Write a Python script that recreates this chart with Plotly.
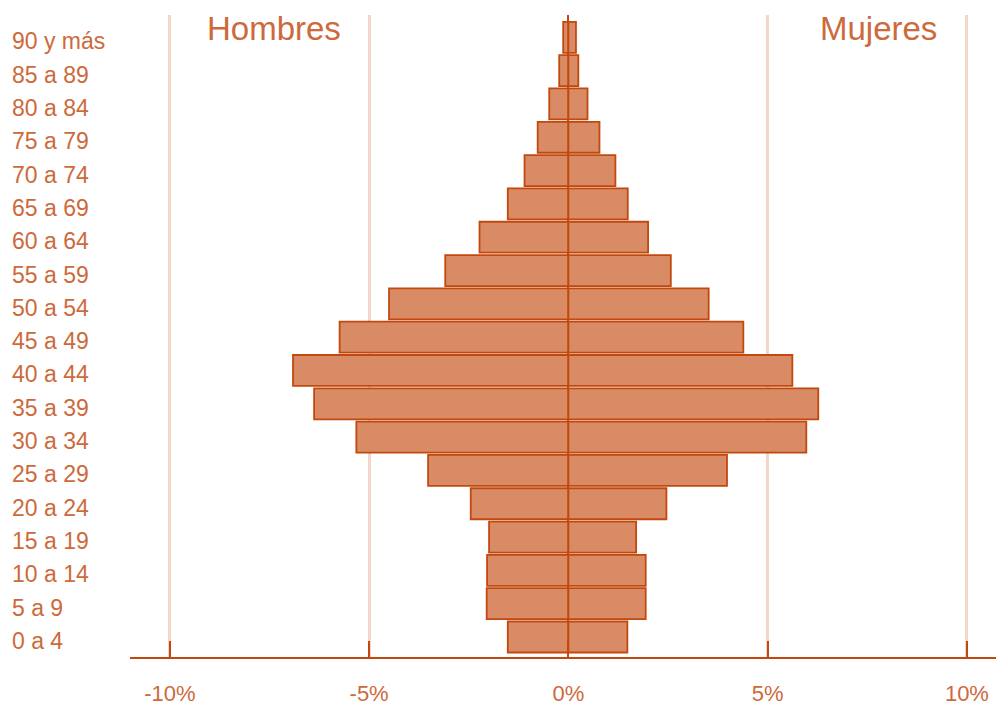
import plotly.graph_objects as go

age_groups = ["0 a 4", "5 a 9", "10 a 14", "15 a 19", "20 a 24", "25 a 29", "30 a 34",
              "35 a 39", "40 a 44", "45 a 49", "50 a 54", "55 a 59", "60 a 64", "65 a 69",
              "70 a 74", "75 a 79", "80 a 84", "85 a 89", "90 y más"]
hombres = [-1.52, -2.05, -2.04, -1.99, -2.45, -3.52, -5.32, -6.38, -6.91, -5.74,
           -4.50, -3.09, -2.23, -1.52, -1.10, -0.77, -0.48, -0.23, -0.13]
mujeres = [1.48, 1.94, 1.94, 1.70, 2.46, 3.98, 5.97, 6.27, 5.62, 4.39,
           3.52, 2.57, 2.00, 1.49, 1.18, 0.78, 0.48, 0.25, 0.19]
x_ticks = [-10, -5, 0, 5, 10]
x_tick_labels = ["-10%", "-5%", "0%", "5%", "10%"]

FILL = "#d98b66"
EDGE = "#c2480e"
TEXT = "#cc6a3c"
GRID = "#f2d6c9"
FONT = "Liberation Sans, Arial, sans-serif"

idx = list(range(len(age_groups)))

fig = go.Figure()
fig.add_trace(go.Bar(y=idx, x=hombres, orientation="h", name="Hombres",
                     marker=dict(color=FILL, line=dict(color=EDGE, width=1.8)),
                     hoverinfo="skip"))
fig.add_trace(go.Bar(y=idx, x=mujeres, orientation="h", name="Mujeres",
                     marker=dict(color=FILL, line=dict(color=EDGE, width=1.8)),
                     hoverinfo="skip"))

annotations = []
for i, lab in enumerate(age_groups):
    annotations.append(dict(x=-0.1385, xref="paper", y=i, yref="y", text=lab,
                            showarrow=False, xanchor="left", yanchor="middle", yshift=-4,
                            font=dict(family=FONT, size=23, color=TEXT)))
annotations.append(dict(x=-7.39, xref="x", y=1.0, yref="paper", text="Hombres",
                        showarrow=False, xanchor="center", yanchor="top", yshift=7,
                        font=dict(family=FONT, size=33, color=TEXT)))
annotations.append(dict(x=7.79, xref="x", y=1.0, yref="paper", text="Mujeres",
                        showarrow=False, xanchor="center", yanchor="top", yshift=7,
                        font=dict(family=FONT, size=33, color=TEXT)))

fig.update_layout(
    width=996, height=709,
    margin=dict(l=130, r=0, t=15, b=52),
    paper_bgcolor="white", plot_bgcolor="white",
    barmode="overlay", bargap=0.07,
    showlegend=False,
    annotations=annotations,
    xaxis=dict(range=[-11.0, 10.73], tickvals=x_ticks, ticktext=x_tick_labels,
               automargin=False,
               showgrid=True, gridcolor=GRID, gridwidth=3,
               zeroline=True, zerolinecolor=EDGE, zerolinewidth=2,
               showline=True, linecolor=EDGE, linewidth=2,
               ticks="inside", ticklen=16, tickwidth=2, tickcolor=EDGE,
               ticklabelstandoff=16,
               tickfont=dict(family=FONT, size=22, color=TEXT)),
    yaxis=dict(range=[-0.6, 18.67], showticklabels=False, showgrid=False,
               automargin=False,
               zeroline=False, showline=False, ticks=""),
)

fig.write_html("out.html", config={"displayModeBar": False},
               post_script="document.body.style.margin='0';document.body.style.overflow='hidden';")
